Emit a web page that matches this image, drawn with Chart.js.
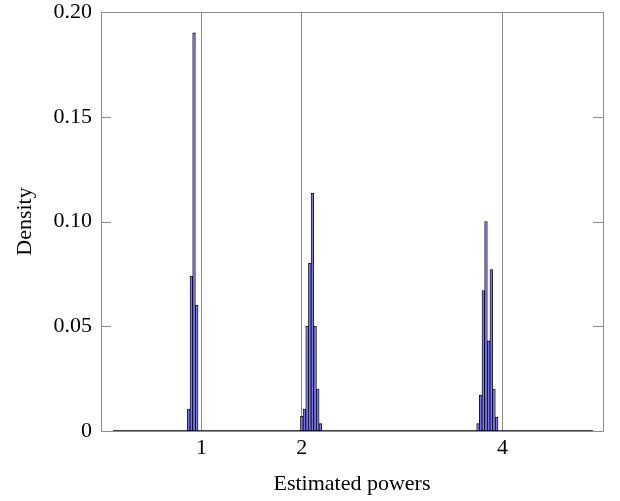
<!DOCTYPE html>
<html>
<head>
<meta charset="utf-8">
<script src="https://cdn.jsdelivr.net/npm/chart.js@4.4.1/dist/chart.umd.min.js"></script>
<style>
  html, body { margin: 0; padding: 0; background: #fff; }
  #caixa { width: 620px; height: 501px; }
</style>
</head>
<body>
<div id="caixa"><canvas id="grafico" width="620" height="501"></canvas></div>
<script>
// bin centres (estimated powers) and densities
const binsNear1 = [0.8735, 0.9000, 0.9265, 0.9530];
const densNear1 = [0.0105, 0.074, 0.190, 0.060];
const binsNear2 = [2.0000, 2.0265, 2.0530, 2.0795, 2.1060, 2.1325, 2.1590, 2.1855];
const densNear2 = [0.007, 0.0105, 0.050, 0.080, 0.1135, 0.050, 0.020, 0.0035];
const binsNear4 = [3.7550, 3.7815, 3.8080, 3.8345, 3.8610, 3.8875, 3.9140, 3.9405];
const densNear4 = [0.0035, 0.017, 0.067, 0.100, 0.043, 0.077, 0.020, 0.0065];
// the empty bins of the histogram show up as a flat line at zero
const histRange = [0.12, 4.9];
const xTicks = [1, 2, 4];
const yTicks = [0, 0.05, 0.10, 0.15, 0.20];

const fonte = { family: '"Liberation Serif", "Times New Roman", serif', size: 22 };
const cinza = '#8c8c8c';

const pontos = (xs, ys) => xs.map((x, i) => ({ x: x, y: ys[i] }));
const barras = [].concat(
  pontos(binsNear1, densNear1),
  pontos(binsNear2, densNear2),
  pontos(binsNear4, densNear4)
);

// box round the plot and pgfplots-style inward ticks on both y sides
const moldura = {
  id: 'moldura',
  beforeDatasetsDraw(chart) {
    const { ctx, chartArea: a, scales } = chart;
    ctx.save();
    ctx.strokeStyle = cinza;
    ctx.lineWidth = 1;
    ctx.beginPath();
    yTicks.forEach(v => {
      const y = Math.round(scales.y.getPixelForValue(v)) + 0.5;
      ctx.moveTo(a.left, y); ctx.lineTo(a.left + 10, y);
      ctx.moveTo(a.right, y); ctx.lineTo(a.right - 10, y);
    });
    ctx.stroke();
    ctx.strokeRect(Math.round(a.left) + 0.5, Math.round(a.top) + 0.5,
      Math.round(a.right - a.left), Math.round(a.bottom - a.top));
    ctx.restore();
  }
};

new Chart(document.getElementById('grafico'), {
  type: 'bar',
  data: {
    datasets: [
      {
        type: 'line',
        data: histRange.map(x => ({ x: x, y: 0 })),
        borderColor: '#000',
        borderWidth: 1.3,
        pointRadius: 0,
        order: 0
      },
      {
        data: barras,
        backgroundColor: '#7676f2',
        borderColor: '#000',
        borderWidth: 0.8,
        barPercentage: 1,
        categoryPercentage: 1,
        order: 1
      }
    ]
  },
  options: {
    responsive: false,
    animation: false,
    layout: { padding: { left: 0, right: 17, top: 12, bottom: 0 } },
    plugins: { legend: { display: false }, tooltip: { enabled: false } },
    scales: {
      x: {
        type: 'linear',
        min: 0,
        max: 5,
        offset: false,
        afterFit: s => { s.height = 70; s.paddingLeft = 0; s.paddingRight = 0; },
        afterBuildTicks: s => { s.ticks = xTicks.map(v => ({ value: v })); },
        grid: { color: cinza, lineWidth: 1, drawTicks: false, offset: false },
        border: { display: false },
        ticks: { color: '#000', font: fonte, padding: 4, maxRotation: 0,
          callback: v => String(v) },
        title: { display: true, text: 'Estimated powers', color: '#000', font: fonte,
          padding: { top: 0, bottom: 4 } }
      },
      y: {
        min: 0,
        max: 0.2,
        afterFit: s => { s.width = 101; s.paddingTop = 0; s.paddingBottom = 0; },
        afterBuildTicks: s => { s.ticks = yTicks.map(v => ({ value: v })); },
        grid: { display: false, drawTicks: false },
        border: { display: false },
        ticks: { color: '#000', font: fonte, padding: 9,
          callback: v => (v === 0 ? '0' : v.toFixed(2)) },
        title: { display: true, text: 'Density', color: '#000', font: fonte,
          padding: { top: 12, bottom: 0 } }
      }
    }
  },
  plugins: [moldura]
});
</script>
</body>
</html>
